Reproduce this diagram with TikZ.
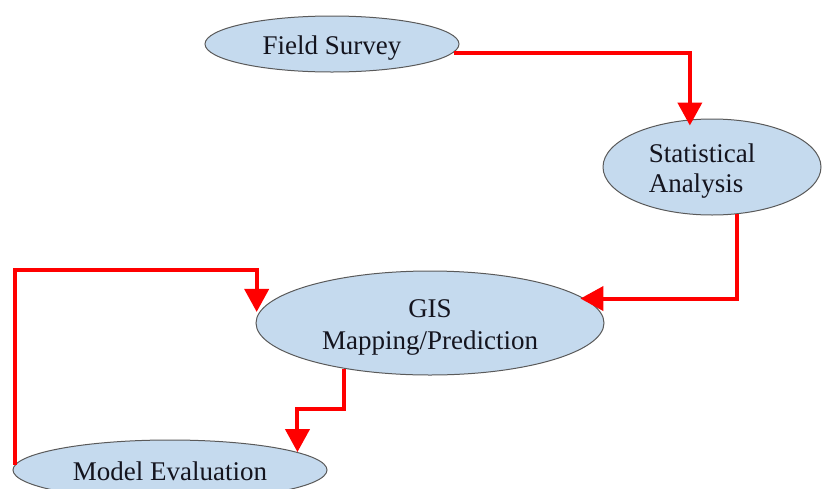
\documentclass[tikz,border=0pt]{standalone}
\usepackage{fontspec}
\setmainfont{Liberation Serif}
\usetikzlibrary{shapes.geometric,arrows.meta}
\definecolor{nodefill}{RGB}{197,218,238}
\definecolor{nodeline}{RGB}{90,90,90}
\definecolor{flowred}{RGB}{255,0,0}
\definecolor{txt}{RGB}{20,20,30}
\newcommand{\lowtext}[2][c]{\raisebox{-4pt}[\height][\depth]{\begin{tabular}{@{}#1@{}}#2\end{tabular}}}
\tikzset{
  oval/.style={ellipse, draw=nodeline, line width=1pt, fill=nodefill, inner sep=0pt,
    align=center, text=txt, font=\fontsize{27}{31}\selectfont},
  flow/.style={draw=flowred, line width=4pt,
    -{Triangle[width=24pt,length=23pt]}, line join=miter}
}
\begin{document}
\begin{tikzpicture}[x=1pt,y=-1pt]
\useasboundingbox (0,0) rectangle (822,488);
\node[oval, minimum width=254pt, minimum height=56pt] (fs) at (332,44) {\lowtext{Field Survey}};
\node[oval, minimum width=218pt, minimum height=96pt] (sa) at (712,167) {\lowtext[l]{Statistical\\[-1pt]Analysis}\hspace{20pt}};
\node[oval, minimum width=348pt, minimum height=104pt] (gis) at (430,323) {\lowtext{GIS\\[1pt]Mapping/Prediction}};
\node[oval, minimum width=314pt, minimum height=60pt] (me) at (170,470) {\lowtext{Model Evaluation}};
\coordinate (b1) at (0,409);
\coordinate (b2) at (0,270);
\draw[flow, shorten >=-6pt] (fs.-4.5) -| (sa.115);
\draw[flow, shorten >=-4pt] (sa.-62) |- (gis.9);
\draw[flow] (gis.-152.6) -- (gis.-152.6 |- b1) -| (me.8.8);
\draw[flow, shorten >=5pt] (me.178) -- (me.178 |- b2) -| (gis.178);
\end{tikzpicture}
\end{document}
